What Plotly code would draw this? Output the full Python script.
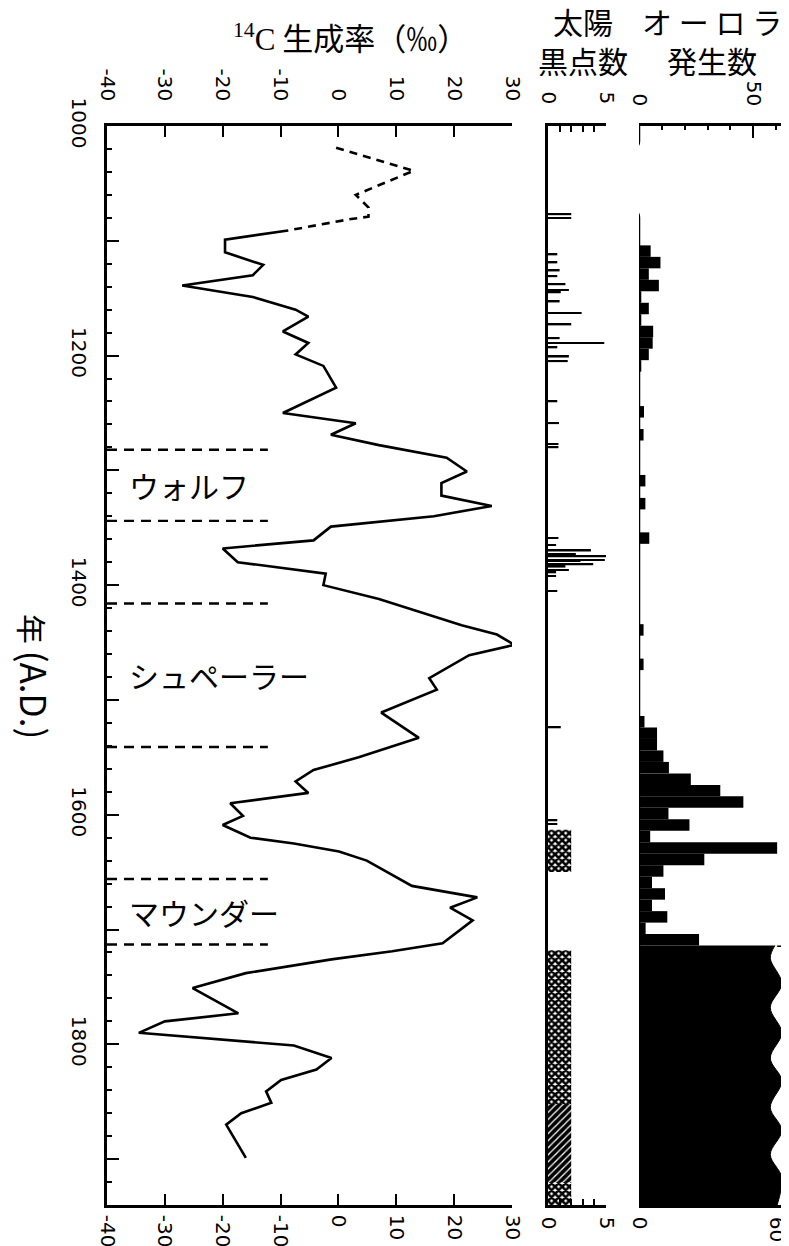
import plotly.graph_objects as go

W, H = 789, 1246

# ---------------- data ----------------
# 14C production rate (permil), early dashed part
c14_dash_years = [1019, 1039, 1060, 1071, 1079, 1081, 1091]
c14_dash_vals = [-0.4, 13.0, 3.0, 5.2, 5.2, 2.2, -8.7]

# 14C production rate, solid part
c14_years = [1091, 1099, 1110, 1121, 1130, 1139, 1149, 1160, 1166, 1179,
             1189, 1199, 1209, 1228, 1250, 1259, 1269, 1278, 1289, 1301,
             1311, 1322, 1331, 1340, 1349, 1361, 1368, 1380, 1390, 1400,
             1412, 1435, 1443, 1452, 1461, 1481, 1491, 1511, 1533, 1550,
             1561, 1571, 1581, 1590, 1601, 1609, 1620, 1625, 1632, 1640,
             1662, 1672, 1681, 1692, 1712, 1719, 1726, 1738, 1751, 1773,
             1780, 1790, 1801, 1812, 1822, 1831, 1841, 1851, 1860, 1870,
             1899]
c14_vals = [-8.7, -19.6, -19.6, -13.0, -14.8, -27.0, -14.8, -7.4, -5.2, -9.6,
            -5.2, -7.4, -2.6, -0.4, -9.6, 3.0, -1.3, 7.0, 18.7, 22.2,
            17.8, 17.8, 26.5, 16.5, -1.3, -4.3, -20.0, -17.4, -2.2, -2.6,
            7.0, 21.3, 27.4, 30.4, 22.6, 15.7, 17.0, 7.4, 13.9, 3.5,
            -4.3, -7.4, -5.2, -18.7, -16.5, -20.0, -15.2, -7.7, 0.1, 4.9,
            12.7, 24.0, 19.3, 23.2, 18.0, 9.3, -1.2, -16.0, -25.2, -17.3,
            -30.0, -34.5, -7.7, -1.2, -3.8, -9.9, -12.5, -11.6, -16.8, -19.4,
            -16.0]

# Solar minima (start, end) and names
minima_names = ["ウォルフ", "シュペーラー", "マウンダー"]
minima_start = [1282, 1416, 1656]
minima_end = [1344, 1541, 1713]

# Naked-eye sunspot counts
ss_years = [1077, 1080, 1112, 1119, 1126, 1131, 1138, 1143, 1145, 1153,
            1163, 1173, 1185, 1189, 1193, 1201, 1205, 1240, 1259, 1277,
            1280, 1359, 1365, 1370, 1373, 1375, 1378, 1379, 1382, 1384,
            1387, 1389, 1392, 1405, 1524, 1605, 1608]
ss_vals = [2.0, 2.0, 0.8, 0.8, 1.0, 0.8, 1.5, 1.8, 1.1, 1.0,
           2.9, 2.0, 1.0, 4.85, 0.8, 1.8, 1.7, 0.8, 0.95, 0.9,
           0.9, 0.9, 0.7, 3.7, 2.4, 5.9, 4.9, 2.8, 3.9, 1.5,
           1.8, 0.7, 0.7, 0.8, 1.1, 0.8, 0.8]

# Telescopic era (hatched) sunspot blocks
ss_block_start = [1613, 1718, 1852, 1920]
ss_block_end = [1650, 1852, 1920, 1940]
ss_block_val = [2.0, 2.0, 2.0, 2.0]
ss_block_pattern = ["x", "x", "/", "x"]

# Aurora counts per 10-year bin (bin start year)
au_start = [1104, 1114, 1124, 1134, 1144, 1154, 1164, 1174, 1184, 1194, 1204,
            1244, 1264, 1304, 1324, 1354, 1434, 1464,
            1514, 1524, 1534, 1544, 1554, 1564, 1574, 1584, 1594, 1604,
            1614, 1624, 1634, 1644, 1654, 1664, 1674, 1684, 1694, 1704]
au_vals = [5.1, 9.4, 4.3, 8.7, 1.0, 4.3, 1.0, 6.2, 6.0, 4.3, 1.0,
           2.2, 2.0, 2.8, 2.8, 4.5, 2.0, 2.0,
           2.4, 7.9, 7.9, 10.7, 13.1, 22.7, 35.6, 45.7, 12.9, 22.1,
           4.9, 60.5, 28.6, 10.7, 5.7, 11.4, 5.7, 12.4, 2.9, 26.3]
au_bin = 10

# Off-scale aurora counts after 1714 (wavy edge)
au_wave_years = [1714, 1725, 1747, 1768, 1790, 1812, 1832, 1855, 1875, 1896, 1916, 1940]
au_wave_vals = [59.5, 57.5, 62.5, 57.5, 62.5, 57.5, 62.5, 57.5, 62.5, 57.5, 62.5, 60.5]

# Tick labels
c14_ticks = [-40, -30, -20, -10, 0, 10, 20, 30]
c14_ticktext = ["-40", "-30", "-20", "-10", "0", "10", "20", "30"]
year_label_ticks = [1000, 1200, 1400, 1600, 1800]
year_plain_ticks = [1100, 1300, 1500, 1700, 1900]
year_minor = list(range(1020, 1941, 20))
ss_label_ticks = [0, 5]
ss_minor_ticks = [1, 2, 3, 4]
au_top_ticks = [0, 50]
au_top_minor = [10, 20, 30, 40, 60]
au_bottom_ticks = [0, 60]

YEAR_MIN, YEAR_MAX = 1000, 1940

# ---------------- figure ----------------
def px_x(p):
    return p / W

def px_y(p):
    return 1 - p / H

TXT = dict(family="DejaVu Sans", size=20, color="black")
CJK = "Noto Sans CJK JP"
LW = 2.6

fig = go.Figure()

# 14C curve
fig.add_trace(go.Scatter(x=c14_dash_vals, y=c14_dash_years, mode="lines",
                         line=dict(color="black", width=LW, dash="8px,6px"),
                         xaxis="x", yaxis="y", hoverinfo="skip"))
fig.add_trace(go.Scatter(x=c14_vals, y=c14_years, mode="lines",
                         line=dict(color="black", width=LW),
                         xaxis="x", yaxis="y", hoverinfo="skip"))

# dashed minima boundaries
lx, ly = [], []
for s, e in zip(minima_start, minima_end):
    for yy in (s, e):
        lx += [-40, -12.2, None]
        ly += [yy, yy, None]
fig.add_trace(go.Scatter(x=lx, y=ly, mode="lines",
                         line=dict(color="black", width=2.4, dash="10px,7px"),
                         xaxis="x", yaxis="y", hoverinfo="skip"))

# sunspots: naked-eye lines
fig.add_trace(go.Bar(x=ss_vals, y=ss_years, orientation="h", width=1.4, base=0,
                     marker=dict(color="black", line=dict(width=0)),
                     xaxis="x2", yaxis="y2", cliponaxis=False, hoverinfo="skip"))
# sunspots: hatched blocks
for s, e, v, p in zip(ss_block_start, ss_block_end, ss_block_val, ss_block_pattern):
    fig.add_trace(go.Bar(x=[v], y=[(s + e) / 2], width=[e - s], orientation="h", base=0,
                         marker=dict(color="black", line=dict(width=0),
                                     pattern=dict(shape=p, fgcolor="black", bgcolor="white",
                                                  size=5, solidity=0.75,
                                                  fillmode="replace")),
                         xaxis="x2", yaxis="y2", hoverinfo="skip"))

# aurora histogram
fig.add_trace(go.Bar(x=au_vals, y=[s + au_bin / 2 for s in au_start], width=au_bin,
                     orientation="h", base=0,
                     marker=dict(color="black", line=dict(width=0)),
                     xaxis="x3", yaxis="y3", cliponaxis=False, hoverinfo="skip"))
# aurora off-scale region
fig.add_trace(go.Scatter(x=au_wave_vals, y=au_wave_years, mode="lines",
                         line=dict(color="black", width=1, shape="spline"),
                         fill="tozerox", fillcolor="black",
                         xaxis="x3", yaxis="y3", cliponaxis=False, hoverinfo="skip"))

# empty traces for the extra (mirror) axes
for xa, ya in (("x4", "y"), ("x5", "y2"), ("x6", "y3"), ("x", "y4")):
    fig.add_trace(go.Scatter(x=[None], y=[None], xaxis=xa, yaxis=ya, hoverinfo="skip"))

base_ax = dict(showline=True, linecolor="black", linewidth=2.5, showgrid=False,
               zeroline=False, ticks="inside", tickcolor="black", tickwidth=2,
               tickangle=90, tickfont=TXT, automargin=False, tickmode="array")

ydom = [px_y(1197), px_y(118)]
c14_dom = [px_x(99), px_x(504)]
ss_dom = [px_x(540), px_x(598)]
au_dom = [px_x(631), px_x(776)]
ss_minor = dict(tickmode="array", tickvals=ss_minor_ticks, ticklen=6,
                ticks="inside", tickcolor="black", tickwidth=2)

fig.update_layout(
    width=W, height=H, margin=dict(l=0, r=0, t=0, b=0),
    paper_bgcolor="white", plot_bgcolor="rgba(0,0,0,0)",
    showlegend=False, barmode="overlay",
    xaxis=dict(base_ax, domain=c14_dom, range=[-40, 30], anchor="y",
               side="bottom", tickvals=c14_ticks, ticktext=c14_ticktext, ticklen=11,
               ticklabelstandoff=3),
    xaxis4=dict(base_ax, domain=c14_dom, range=[-40, 30], anchor="y",
                overlaying="x", side="top", tickvals=c14_ticks, ticktext=c14_ticktext,
                ticklen=11, ticklabelstandoff=15),
    xaxis2=dict(base_ax, domain=ss_dom, range=[0, 5], anchor="y2",
                side="bottom", tickvals=ss_label_ticks, ticklen=6, ticklabelstandoff=5,
                minor=ss_minor),
    xaxis5=dict(base_ax, domain=ss_dom, range=[0, 5], anchor="y2",
                overlaying="x2", side="top", tickvals=ss_label_ticks, ticklen=6,
                ticklabelstandoff=12, minor=ss_minor),
    xaxis3=dict(base_ax, domain=au_dom, range=[0, 63.5], anchor="y3",
                side="bottom", tickvals=au_bottom_ticks, ticklen=0,
                ticklabelstandoff=5),
    xaxis6=dict(base_ax, domain=au_dom, range=[0, 63.5], anchor="y3",
                overlaying="x3", side="top", tickvals=au_top_ticks,
                ticklen=12, ticklabelstandoff=10,
                minor=dict(tickmode="array", tickvals=au_top_minor, ticklen=4,
                           ticks="inside", tickcolor="black", tickwidth=1.5)),
    yaxis=dict(base_ax, domain=ydom, range=[YEAR_MAX, YEAR_MIN], anchor="x",
               side="left", tickvals=year_label_ticks, ticklen=12,
               ticklabelstandoff=8,
               minor=dict(tickmode="array", tickvals=year_minor, ticklen=5,
                          ticks="inside", tickcolor="black", tickwidth=1.5)),
    yaxis4=dict(domain=ydom, matches="y", range=[YEAR_MAX, YEAR_MIN], anchor="x",
                overlaying="y", side="left", showline=False, showgrid=False,
                zeroline=False, tickmode="array", tickvals=year_plain_ticks,
                ticks="inside", ticklen=12, tickwidth=2, tickcolor="black",
                showticklabels=False),
    yaxis2=dict(domain=ydom, matches="y", range=[YEAR_MAX, YEAR_MIN], anchor="x2",
                showline=True, linecolor="black", linewidth=2.5, ticks="",
                showticklabels=False, showgrid=False, zeroline=False),
    yaxis3=dict(domain=ydom, matches="y", range=[YEAR_MAX, YEAR_MIN], anchor="x3",
                showline=False, ticks="", showticklabels=False, showgrid=False,
                zeroline=False),
)

# aurora left axis with break marks (record gap before ~1075)
fig.add_shape(type="path", xref="x3", yref="y3",
              path="M 0,1000 L 0,1013 Q 0,1019 -3.5,1021",
              line=dict(color="black", width=2.5))
fig.add_shape(type="path", xref="x3", yref="y3",
              path="M -4,1073 Q 0,1073 0,1080 L 0,1940",
              line=dict(color="black", width=2.5))

annotations = []
# minima labels
for name, s, e in zip(minima_names, minima_start, minima_end):
    annotations.append(dict(x=-36.5, y=(s + e) / 2, xref="x", yref="y", text=name,
                            showarrow=False, xanchor="left", yanchor="middle",
                            font=dict(family=CJK, size=30, color="black")))
# titles
annotations += [
    dict(x=px_x(342), y=px_y(28), xref="paper", yref="paper",
         text='<span style="font-family:Liberation Serif"><sup>14</sup>C</span> 生成率（‰）',
         showarrow=False, xanchor="center", yanchor="middle",
         font=dict(family=CJK, size=31, color="black")),
    dict(x=px_x(575), y=px_y(2), xref="paper", yref="paper", text="太陽<br>黒点数",
         showarrow=False, xanchor="center", yanchor="top", align="center", yshift=13,
         font=dict(family=CJK, size=30, color="black")),
    dict(x=px_x(704), y=px_y(2), xref="paper", yref="paper",
         text="オ ー ロ ラ<br>発生数",
         showarrow=False, xanchor="center", yanchor="top", align="center", yshift=13,
         font=dict(family=CJK, size=30, color="black")),
    dict(x=px_x(28), y=px_y(668), xref="paper", yref="paper",
         text='年 <span style="font-size:35px">(A.D.)</span>',
         showarrow=False, xanchor="center", yanchor="middle", textangle=90,
         font=dict(family=CJK, size=30, color="black")),
]
# off-scale arrows
for yy in (au_wave_years[0], au_wave_years[-1]):
    annotations.append(dict(x=px_x(785), y=yy, xref="paper", yref="y", text="→",
                            showarrow=False, xanchor="right", yanchor="middle",
                            font=dict(family="DejaVu Sans", size=18, color="black")))
fig.update_layout(annotations=annotations)

fig.write_html("out.html")
